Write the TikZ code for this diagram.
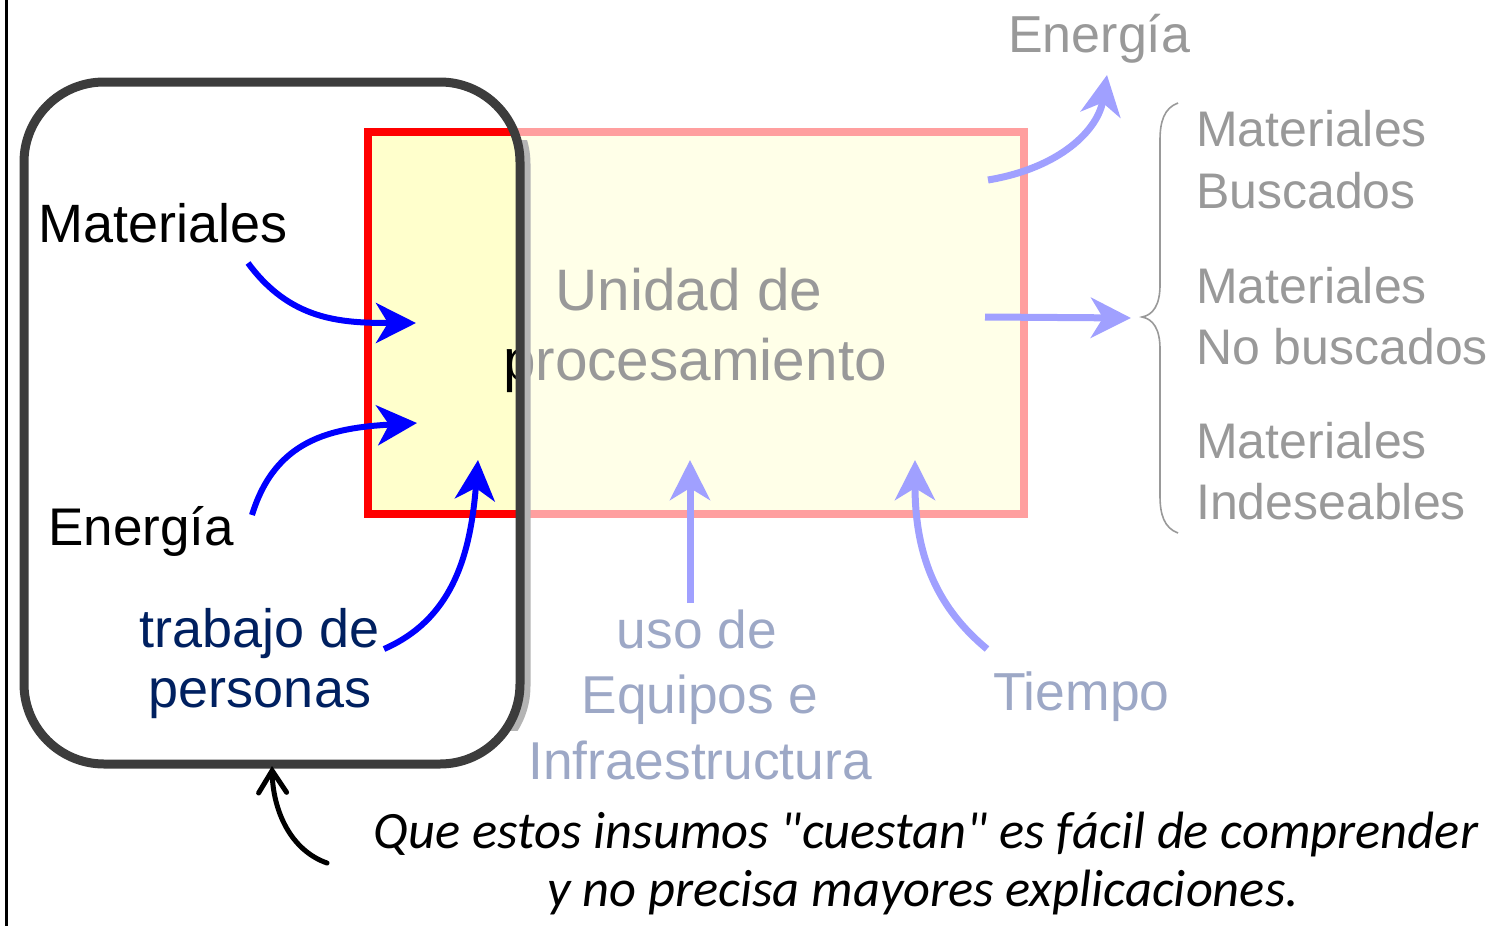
\documentclass[tikz,border=0pt]{standalone}
\usepackage{fontspec}
\setmainfont{Liberation Sans}
\newfontfamily\captfont{Carlito}
\usetikzlibrary{arrows.meta}
\definecolor{boxgray}{HTML}{3C3C3C}
\definecolor{shadowgray}{HTML}{B4B4B4}
\definecolor{softpink}{HTML}{FF9F9F}
\definecolor{paleyellow}{HTML}{FFFFE8}
\definecolor{brightyellow}{HTML}{FFFFCC}
\definecolor{textgray}{HTML}{999999}
\definecolor{bluegray}{HTML}{9DA8C6}
\definecolor{navy}{HTML}{002060}
\definecolor{softblue}{HTML}{A0A0FF}
\tikzset{
  lbl/.style={inner sep=0pt, anchor=base},
  lblw/.style={inner sep=0pt, anchor=base west},
  strongarrow/.style={draw=blue, line width=6pt, -{Stealth[length=40pt,width=40pt,inset=12pt]}},
  softarrow/.style={draw=softblue, line width=7pt, -{Stealth[length=40pt,width=40pt,inset=12pt]}},
  notearrow/.style={draw=black, line width=5pt, line cap=round, -{Straight Barb[length=22pt,width=28pt,line cap=round]}}
}
\newcommand{\fsz}[1]{\fontsize{#1}{#1}\selectfont}
\begin{document}
\begin{tikzpicture}[x=1pt,y=-1pt]
\useasboundingbox (0,0) rectangle (1499,926);
% left rule
\draw[line width=3pt] (6,0) -- (6,926);
% faded processing unit
\draw[draw=softpink, line width=8pt, fill=paleyellow] (368,132) rectangle (1024,514);
\node[lbl, text=textgray, font=\fsz{58.5}] (unidad) at (689,310) {Unidad de};
\node[lbl, text=textgray, font=\fsz{58.5}] (proc) at (695,380) {procesamiento};
% highlighted part inside the rounded box
\begin{scope}
  \clip[rounded corners=80pt] (24,82) rectangle (520,764);
  \draw[draw=red, line width=8pt, fill=brightyellow] (368,132) rectangle (1024,514);
  \node[lbl, text=black, font=\fsz{58.5}] (procB) at (695,380) {procesamiento};
\end{scope}
% rounded box with shadow on its right side
\begin{scope}
  \clip (470,140) rectangle (540,730);
  \draw[draw=shadowgray, line width=9pt, rounded corners=80pt] (30,84) rectangle (526,766);
\end{scope}
\draw[draw=boxgray, line width=9pt, rounded corners=80pt, fill=none] (24,82) rectangle (520,764);
% input labels
\node[lblw, font=\fsz{54}] (matIn) at (38,242) {Materiales};
\node[lblw, font=\fsz{53}] (enIn) at (48,545) {Energía};
\node[lbl, text=navy, font=\fsz{54}] (trab1) at (260,647) {trabajo de};
\node[lbl, text=navy, font=\fsz{54}] (trab2) at (260,707) {personas};
\node[lbl, text=bluegray, font=\fsz{53.3}] (uso1) at (697,648) {uso de};
\node[lbl, text=bluegray, font=\fsz{53.3}] (uso2) at (700,713) {Equipos e};
\node[lbl, text=bluegray, font=\fsz{53.3}] (uso3) at (700,779) {Infraestructura};
\node[lblw, text=bluegray, font=\fsz{53.5}] (tiempo) at (993,710) {Tiempo};
% outputs
\node[lblw, text=textgray, font=\fsz{52}] (enOut) at (1008,52) {Energía};
\node[lblw, text=textgray, font=\fsz{50}] (out1) at (1196,146) {Materiales};
\node[lblw, text=textgray, font=\fsz{50}] (out2) at (1196,208) {Buscados};
\node[lblw, text=textgray, font=\fsz{50}] (out3) at (1196,303) {Materiales};
\node[lblw, text=textgray, font=\fsz{50}] (out4) at (1196,364) {No buscados};
\node[lblw, text=textgray, font=\fsz{50}] (out5) at (1196,458) {Materiales};
\node[lblw, text=textgray, font=\fsz{50}] (out6) at (1196,519) {Indeseables};
% brace
\coordinate (braceTip) at (1142,317);
\draw[draw=textgray, line width=1.6pt] (1178,103) .. controls (1164,108) and (1160,122) .. (1160,140) -- (1160,285) .. controls (1160,305) and (1153,315) .. (braceTip) .. controls (1153,319) and (1160,329) .. (1160,349) -- (1160,496) .. controls (1160,514) and (1164,528) .. (1178,533);
% arrow end points
\coordinate (matS) at (248,263);
\coordinate (matE) at (416,323);
\coordinate (enS) at (252,515);
\coordinate (enE) at (417,423);
\coordinate (trS) at (384,649);
\coordinate (trE) at (478,460);
\coordinate (eqS) at (690,603);
\coordinate (eqE) at (690,460);
\coordinate (tiS) at (987,649);
\coordinate (tiE) at (915,460);
\coordinate (eoS) at (988,180);
\coordinate (eoE) at (1107,75);
\coordinate (moS) at (985,317);
\coordinate (moE) at (1131,318);
\coordinate (noteS) at (327,863);
\coordinate (noteE) at (272,766);
% arrows
\draw[strongarrow] (matS) .. controls (290,320) and (340,323) .. (matE);
\draw[strongarrow] (enS) .. controls (275,440) and (330,428) .. (enE);
\draw[strongarrow] (trS) .. controls (450,620) and (470,560) .. (trE);
\draw[softarrow] (eqS) -- (eqE);
\draw[softarrow] (tiS) .. controls (940,610) and (915,560) .. (tiE);
\draw[softarrow] (eoS) .. controls (1060,168) and (1098,130) .. (eoE);
\draw[softarrow] (moS) -- (moE);
\draw[notearrow] (noteS) .. controls (290,850) and (273,810) .. (noteE);
% caption
\node[lbl, font=\captfont\itshape\fsz{52.5}] (cap1) at (926,848) {Que estos insumos "cuestan" es fácil de comprender};
\node[lbl, font=\captfont\itshape\fsz{52.5}] (cap2) at (923,906) {y no precisa mayores explicaciones.};
\end{tikzpicture}
\end{document}
